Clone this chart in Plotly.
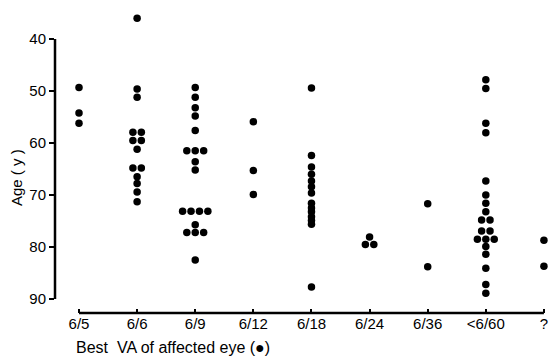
import plotly.graph_objects as go
from collections import Counter

categories = ["6/5", "6/6", "6/9", "6/12", "6/18", "6/24", "6/36", "<6/60", "?"]

age_6_5 = [49.3, 54.2, 56.2]
age_6_6 = [36.0, 49.6, 51.2, 57.9, 57.9, 59.5, 59.5, 61.2, 64.8, 64.8, 66.5, 67.8, 69.4, 71.3]
age_6_9 = [49.3, 51.2, 53.2, 54.8, 57.6, 61.5, 61.5, 61.5, 63.6, 65.2,
           73.1, 73.1, 73.1, 73.1, 75.7, 77.2, 77.2, 77.2, 82.5]
age_6_12 = [55.9, 65.3, 69.9]
age_6_18 = [49.4, 62.4, 64.6, 66.0, 67.3, 68.4, 69.6, 71.6, 72.5, 73.2, 74.2, 74.9, 75.6, 87.7]
age_6_24 = [78.1, 79.5, 79.5]
age_6_36 = [71.7, 83.8]
age_lt_6_60 = [47.8, 49.5, 56.2, 58.0, 67.3, 70.0, 71.6, 73.2, 74.8, 74.8, 76.9, 76.9,
               78.5, 78.5, 78.5, 79.9, 81.4, 84.1, 87.2, 88.9]
age_unknown = [78.7, 83.7]

y_ticks = [40, 50, 60, 70, 80, 90]

series = [age_6_5, age_6_6, age_6_9, age_6_12, age_6_18, age_6_24, age_6_36, age_lt_6_60, age_unknown]

# dot-plot layout: identical ages in a column are spread side by side
SPREAD = 0.145
xs, ys = [], []
for i, ages in enumerate(series):
    counts = Counter(ages)
    seen = Counter()
    for a in ages:
        n = counts[a]
        k = seen[a]
        seen[a] += 1
        xs.append(i + (k - (n - 1) / 2) * SPREAD)
        ys.append(a)

W, H = 549, 356
L, R, T, B = 55, 1, 10, 43

fig = go.Figure()
fig.add_trace(go.Scatter(
    x=xs, y=ys, mode="markers",
    marker=dict(color="black", size=7.5, line=dict(width=0)),
    hoverinfo="skip", showlegend=False, cliponaxis=False,
))

font = dict(family="Liberation Sans, Arial, sans-serif", size=15, color="black")
title_font = dict(family="Liberation Sans, Arial, sans-serif", size=16, color="black")

fig.update_layout(
    width=W, height=H,
    margin=dict(l=L, r=R, t=T, b=B, pad=0, autoexpand=False),
    paper_bgcolor="white", plot_bgcolor="white",
    font=font,
    xaxis=dict(
        range=[-0.413, 8.07],
        tickvals=list(range(len(categories))), ticktext=categories,
        ticks="inside", ticklen=4, tickwidth=2, tickcolor="black",
        showgrid=False, zeroline=False, showline=False, automargin=False,
        tickfont=font, fixedrange=True,
    ),
    yaxis=dict(
        range=[92.7, 34.4],
        tickvals=y_ticks, ticktext=[str(v) for v in y_ticks],
        ticks="outside", ticklen=5, tickwidth=2, tickcolor="black",
        showgrid=False, zeroline=False, showline=False, automargin=False,
        tickfont=font, fixedrange=True,
    ),
    shapes=[
        dict(type="line", xref="paper", yref="y", x0=0, x1=0, y0=y_ticks[0], y1=y_ticks[-1],
             line=dict(color="black", width=2.5)),
        dict(type="line", xref="x", yref="paper", x0=0, x1=len(categories) - 1, y0=0, y1=0,
             line=dict(color="black", width=2.5)),
    ],
    annotations=[
        dict(text="Best  VA of affected eye (●)", xref="paper", yref="paper",
             x=(74 - L) / (W - L - R), y=-(347 - (H - B)) / (H - T - B),
             xanchor="left", yanchor="middle", showarrow=False, font=title_font),
        dict(text="Age ( y )", xref="paper", yref="paper",
             x=-(L - 16) / (W - L - R), y=1 - (178 - T) / (H - T - B),
             xanchor="center", yanchor="middle", textangle=-90, showarrow=False, font=font),
    ],
)

fig.write_html(
    "out.html",
    config={"displayModeBar": False, "staticPlot": True},
    post_script="document.body.style.margin='0';"
                "document.documentElement.style.overflow='hidden';"
                "document.body.style.overflow='hidden';",
)
